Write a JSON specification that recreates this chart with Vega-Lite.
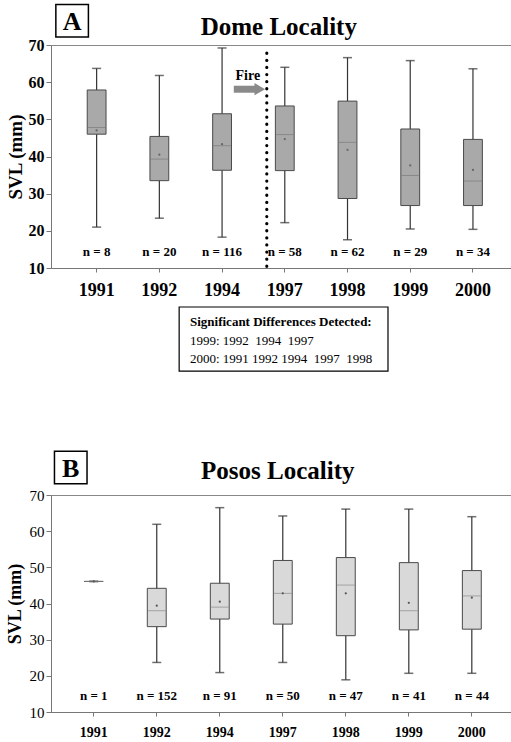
{
  "$schema": "https://vega.github.io/schema/vega-lite/v6.json",
  "background": "white",
  "padding": {"left": 5, "top": 1, "right": 0, "bottom": 0},
  "spacing": 6,
  "config": {
    "font": "Liberation Serif",
    "view": {"stroke": "#888"},
    "axis": {"grid": false, "domainColor": "#777", "tickColor": "#777", "labelColor": "black", "titleColor": "black", "labelFont": "Liberation Serif", "titleFont": "Liberation Serif", "labelOverlap": false}
  },
  "datasets": {
    "dome": [
      {"year": "1991", "min": 21.0, "q1": 46.0, "median": 47.8, "q3": 57.9, "max": 63.7, "mean": 47.0, "nlab": "n = 8"},
      {"year": "1992", "min": 23.4, "q1": 33.5, "median": 39.3, "q3": 45.4, "max": 61.8, "mean": 40.5, "nlab": "n = 20"},
      {"year": "1994", "min": 18.3, "q1": 36.3, "median": 42.9, "q3": 51.5, "max": 69.2, "mean": 43.3, "nlab": "n = 116"},
      {"year": "1997", "min": 22.2, "q1": 36.2, "median": 45.9, "q3": 53.6, "max": 64.0, "mean": 44.7, "nlab": "n = 58"},
      {"year": "1998", "min": 17.6, "q1": 28.7, "median": 43.8, "q3": 54.9, "max": 66.6, "mean": 41.8, "nlab": "n = 62"},
      {"year": "1999", "min": 20.5, "q1": 26.8, "median": 34.9, "q3": 47.4, "max": 65.8, "mean": 37.6, "nlab": "n = 29"},
      {"year": "2000", "min": 20.4, "q1": 26.8, "median": 33.4, "q3": 44.6, "max": 63.6, "mean": 36.4, "nlab": "n = 34"}
    ],
    "posos": [
      {"year": "1991", "min": 46.1, "q1": 46.1, "median": 46.1, "q3": 46.1, "max": 46.1, "mean": 46.1, "nlab": "n = 1"},
      {"year": "1992", "min": 23.7, "q1": 33.6, "median": 38.0, "q3": 44.2, "max": 61.9, "mean": 39.4, "nlab": "n = 152"},
      {"year": "1994", "min": 20.9, "q1": 35.7, "median": 39.0, "q3": 45.6, "max": 66.5, "mean": 40.5, "nlab": "n = 91"},
      {"year": "1997", "min": 23.7, "q1": 34.3, "median": 42.8, "q3": 51.9, "max": 64.2, "mean": 42.8, "nlab": "n = 50"},
      {"year": "1998", "min": 18.9, "q1": 31.1, "median": 45.1, "q3": 52.7, "max": 66.1, "mean": 42.8, "nlab": "n = 47"},
      {"year": "1999", "min": 20.7, "q1": 32.7, "median": 38.0, "q3": 51.3, "max": 66.1, "mean": 40.2, "nlab": "n = 41"},
      {"year": "2000", "min": 20.7, "q1": 32.9, "median": 42.1, "q3": 49.1, "max": 64.0, "mean": 41.6, "nlab": "n = 44"}
    ]
  },
  "vconcat": [
    {
      "width": 461,
      "height": 223,
      "encoding": {
        "x": {"field": "year", "type": "nominal", "title": null, "sort": null,
          "scale": {"type": "band", "paddingInner": 0.7, "paddingOuter": 0.525, "align": 0.55},
          "axis": {"labelAngle": 0, "labelFontWeight": "bold", "labelFontSize": 18, "tickSize": 4, "labelPadding": 9, "title": null}}
      },
      "layer": [
        {
          "data": {"name": "dome"},
          "mark": {"type": "rule", "color": "#333", "strokeWidth": 1.2},
          "encoding": {
            "y": {"field": "min", "type": "quantitative", "title": "SVL (mm)",
              "scale": {"domain": [10, 70], "nice": false, "zero": false},
              "axis": {"values": [10, 20, 30, 40, 50, 60, 70], "tickCount": 7, "labelOverlap": false, "labelFontWeight": "bold", "labelFontSize": 16, "tickSize": 5, "labelPadding": 2, "titleFontSize": 19, "titleFontWeight": "bold", "titlePadding": 3}},
            "y2": {"field": "max"}
          }
        },
        {
          "data": {"name": "dome"},
          "mark": {"type": "bar", "fill": "#a9a9a9", "stroke": "#4a4a4a", "strokeWidth": 1},
          "encoding": {"y": {"field": "q1", "type": "quantitative", "title": "SVL (mm)",
              "axis": {"values": [10, 20, 30, 40, 50, 60, 70], "tickCount": 7, "labelOverlap": false, "labelFontWeight": "bold", "labelFontSize": 16, "tickSize": 5, "labelPadding": 2, "titleFontSize": 19, "titleFontWeight": "bold", "titlePadding": 3}}, "y2": {"field": "q3"}}
        },
        {
          "data": {"name": "dome"},
          "mark": {"type": "tick", "color": "#333", "size": 9, "thickness": 1.5},
          "encoding": {"y": {"field": "min", "type": "quantitative", "title": "SVL (mm)",
              "axis": {"values": [10, 20, 30, 40, 50, 60, 70], "tickCount": 7, "labelOverlap": false, "labelFontWeight": "bold", "labelFontSize": 16, "tickSize": 5, "labelPadding": 2, "titleFontSize": 19, "titleFontWeight": "bold", "titlePadding": 3}}}
        },
        {
          "data": {"name": "dome"},
          "mark": {"type": "tick", "color": "#333", "size": 9, "thickness": 1.5},
          "encoding": {"y": {"field": "max", "type": "quantitative", "title": "SVL (mm)",
              "axis": {"values": [10, 20, 30, 40, 50, 60, 70], "tickCount": 7, "labelOverlap": false, "labelFontWeight": "bold", "labelFontSize": 16, "tickSize": 5, "labelPadding": 2, "titleFontSize": 19, "titleFontWeight": "bold", "titlePadding": 3}}}
        },
        {
          "data": {"name": "dome"},
          "mark": {"type": "tick", "color": "#7a7a7a", "size": 18, "thickness": 1, "strokeDash": [2, 2]},
          "encoding": {"y": {"field": "median", "type": "quantitative", "title": "SVL (mm)",
              "axis": {"values": [10, 20, 30, 40, 50, 60, 70], "tickCount": 7, "labelOverlap": false, "labelFontWeight": "bold", "labelFontSize": 16, "tickSize": 5, "labelPadding": 2, "titleFontSize": 19, "titleFontWeight": "bold", "titlePadding": 3}}}
        },
        {
          "data": {"name": "dome"},
          "mark": {"type": "point", "shape": "circle", "filled": true, "size": 5, "color": "#666", "opacity": 1},
          "encoding": {"y": {"field": "mean", "type": "quantitative", "title": "SVL (mm)",
              "axis": {"values": [10, 20, 30, 40, 50, 60, 70], "tickCount": 7, "labelOverlap": false, "labelFontWeight": "bold", "labelFontSize": 16, "tickSize": 5, "labelPadding": 2, "titleFontSize": 19, "titleFontWeight": "bold", "titlePadding": 3}}}
        },
        {
          "data": {"name": "dome"},
          "mark": {"type": "text", "fontSize": 13, "fontWeight": "bold", "baseline": "middle", "color": "black"},
          "encoding": {"y": {"datum": 14.2, "type": "quantitative", "title": "SVL (mm)"}, "text": {"field": "nlab"}}
        },
        {
          "data": {"values": [{"event": "fire"}]},
          "mark": {"type": "rule", "color": "black", "strokeWidth": 3.2, "strokeDash": [0.1, 7], "strokeCap": "round", "xOffset": -18},
          "encoding": {"x": {"datum": "1997"}, "y": {"datum": 67.8, "type": "quantitative", "title": "SVL (mm)"}, "y2": {"datum": 8.6}}
        },
        {
          "data": {"values": [{"label": "Fire"}]},
          "mark": {"type": "text", "fontSize": 14, "fontWeight": "bold", "baseline": "middle", "color": "black", "xOffset": -37},
          "encoding": {"x": {"datum": "1997"}, "y": {"datum": 61.7, "type": "quantitative", "title": "SVL (mm)"}, "text": {"field": "label"}}
        },
        {
          "data": {"values": [{"event": "fire"}]},
          "mark": {"type": "rule", "color": "#8a8a8a", "strokeWidth": 7, "xOffset": -51, "x2Offset": -28},
          "encoding": {"x": {"datum": "1997"}, "x2": {"datum": "1997"}, "y": {"datum": 58.1, "type": "quantitative", "title": "SVL (mm)"}}
        },
        {
          "data": {"values": [{"event": "fire"}]},
          "mark": {"type": "point", "shape": "triangle-right", "filled": true, "color": "#8a8a8a", "size": 150, "opacity": 1, "xOffset": -25},
          "encoding": {"x": {"datum": "1997"}, "y": {"datum": 58.1, "type": "quantitative", "title": "SVL (mm)"}}
        },
        {
          "data": {"values": [{"label": "A"}]},
          "mark": {"type": "point", "shape": "square", "filled": false, "stroke": "black", "strokeWidth": 1.5, "size": 1060, "opacity": 1, "xOffset": -24.5},
          "encoding": {"x": {"datum": "1991"}, "y": {"datum": 76.5, "type": "quantitative", "title": "SVL (mm)"}}
        },
        {
          "data": {"values": [{"label": "A"}]},
          "mark": {"type": "text", "fontSize": 26, "fontWeight": "bold", "baseline": "middle", "color": "black", "xOffset": -24.5, "dy": 1},
          "encoding": {"x": {"datum": "1991"}, "y": {"datum": 76.5, "type": "quantitative", "title": "SVL (mm)"}, "text": {"field": "label"}}
        },
        {
          "data": {"values": [{"label": "Dome Locality"}]},
          "mark": {"type": "text", "fontSize": 25, "fontWeight": "bold", "baseline": "alphabetic", "color": "black", "xOffset": -6},
          "encoding": {"x": {"datum": "1997"}, "y": {"datum": 72.6, "type": "quantitative", "title": "SVL (mm)"}, "text": {"field": "label"}}
        }
      ]
    },
    {
      "width": 461,
      "height": 134,
      "view": {"stroke": null},
      "layer": [
        {
          "data": {"values": [{"box": "significance"}]},
          "mark": {"type": "rect", "fill": "white", "stroke": "black", "strokeWidth": 1.2},
          "encoding": {
            "x": {"datum": 0.278, "type": "quantitative", "scale": {"domain": [0, 1]}, "axis": null},
            "x2": {"datum": 0.731},
            "y": {"datum": 0.522, "type": "quantitative", "scale": {"domain": [0, 1]}, "axis": null},
            "y2": {"datum": 1}
          }
        },
        {
          "data": {"values": [{"label": "Significant Differences Detected:"}]},
          "mark": {"type": "text", "fontSize": 13, "fontWeight": "bold", "align": "left", "baseline": "middle", "color": "black"},
          "encoding": {"x": {"datum": 0.3015, "type": "quantitative"}, "y": {"datum": 0.888, "type": "quantitative"}, "text": {"field": "label"}}
        },
        {
          "data": {"values": [{"label": "1999: 1992\u00a0 1994\u00a0 1997"}]},
          "mark": {"type": "text", "fontSize": 13, "align": "left", "baseline": "middle", "color": "black"},
          "encoding": {"x": {"datum": 0.3015, "type": "quantitative"}, "y": {"datum": 0.749, "type": "quantitative"}, "text": {"field": "label"}}
        },
        {
          "data": {"values": [{"label": "2000: 1991 1992 1994\u00a0 1997\u00a0 1998"}]},
          "mark": {"type": "text", "fontSize": 13, "align": "left", "baseline": "middle", "color": "black"},
          "encoding": {"x": {"datum": 0.3015, "type": "quantitative"}, "y": {"datum": 0.612, "type": "quantitative"}, "text": {"field": "label"}}
        }
      ]
    },
    {
      "width": 461,
      "height": 217,
      "encoding": {
        "x": {"field": "year", "type": "nominal", "title": null, "sort": null,
          "scale": {"type": "band", "paddingInner": 0.7, "paddingOuter": 0.508, "align": 0.52},
          "axis": {"labelAngle": 0, "labelFontWeight": "bold", "labelFontSize": 14, "tickSize": 4, "labelPadding": 9, "title": null}}
      },
      "layer": [
        {
          "data": {"name": "posos"},
          "mark": {"type": "rule", "color": "#333", "strokeWidth": 1.2},
          "encoding": {
            "y": {"field": "min", "type": "quantitative", "title": "SVL (mm)",
              "scale": {"domain": [10, 70], "nice": false, "zero": false},
              "axis": {"values": [10, 20, 30, 40, 50, 60, 70], "tickCount": 7, "labelOverlap": false, "labelFontWeight": "normal", "labelFontSize": 15, "tickSize": 5, "labelPadding": 2, "titleFontSize": 18, "titleFontWeight": "bold", "titlePadding": 5}},
            "y2": {"field": "max"}
          }
        },
        {
          "data": {"name": "posos"},
          "mark": {"type": "bar", "fill": "#d9d9d9", "stroke": "#4a4a4a", "strokeWidth": 1},
          "encoding": {"y": {"field": "q1", "type": "quantitative", "title": "SVL (mm)",
              "axis": {"values": [10, 20, 30, 40, 50, 60, 70], "tickCount": 7, "labelOverlap": false, "labelFontWeight": "normal", "labelFontSize": 15, "tickSize": 5, "labelPadding": 2, "titleFontSize": 18, "titleFontWeight": "bold", "titlePadding": 5}}, "y2": {"field": "q3"}}
        },
        {
          "data": {"name": "posos"},
          "mark": {"type": "tick", "color": "#333", "size": 9, "thickness": 1.5},
          "encoding": {"y": {"field": "min", "type": "quantitative", "title": "SVL (mm)",
              "axis": {"values": [10, 20, 30, 40, 50, 60, 70], "tickCount": 7, "labelOverlap": false, "labelFontWeight": "normal", "labelFontSize": 15, "tickSize": 5, "labelPadding": 2, "titleFontSize": 18, "titleFontWeight": "bold", "titlePadding": 5}}}
        },
        {
          "data": {"name": "posos"},
          "mark": {"type": "tick", "color": "#333", "size": 9, "thickness": 1.5},
          "encoding": {"y": {"field": "max", "type": "quantitative", "title": "SVL (mm)",
              "axis": {"values": [10, 20, 30, 40, 50, 60, 70], "tickCount": 7, "labelOverlap": false, "labelFontWeight": "normal", "labelFontSize": 15, "tickSize": 5, "labelPadding": 2, "titleFontSize": 18, "titleFontWeight": "bold", "titlePadding": 5}}}
        },
        {
          "data": {"name": "posos"},
          "mark": {"type": "tick", "color": "#8a8a8a", "size": 18, "thickness": 1, "strokeDash": [2, 2]},
          "encoding": {"y": {"field": "median", "type": "quantitative", "title": "SVL (mm)",
              "axis": {"values": [10, 20, 30, 40, 50, 60, 70], "tickCount": 7, "labelOverlap": false, "labelFontWeight": "normal", "labelFontSize": 15, "tickSize": 5, "labelPadding": 2, "titleFontSize": 18, "titleFontWeight": "bold", "titlePadding": 5}}}
        },
        {
          "data": {"name": "posos"},
          "mark": {"type": "point", "shape": "circle", "filled": true, "size": 5, "color": "#555", "opacity": 1},
          "encoding": {"y": {"field": "mean", "type": "quantitative", "title": "SVL (mm)",
              "axis": {"values": [10, 20, 30, 40, 50, 60, 70], "tickCount": 7, "labelOverlap": false, "labelFontWeight": "normal", "labelFontSize": 15, "tickSize": 5, "labelPadding": 2, "titleFontSize": 18, "titleFontWeight": "bold", "titlePadding": 5}}}
        },
        {
          "data": {"name": "posos"},
          "mark": {"type": "text", "fontSize": 13, "fontWeight": "bold", "baseline": "middle", "color": "black"},
          "encoding": {"y": {"datum": 14.3, "type": "quantitative", "title": "SVL (mm)"}, "text": {"field": "nlab"}}
        },
        {
          "data": {"values": [{"label": "B"}]},
          "mark": {"type": "point", "shape": "square", "filled": false, "stroke": "black", "strokeWidth": 1.5, "size": 1060, "opacity": 1, "xOffset": -23},
          "encoding": {"x": {"datum": "1991"}, "y": {"datum": 77.6, "type": "quantitative", "title": "SVL (mm)"}}
        },
        {
          "data": {"values": [{"label": "B"}]},
          "mark": {"type": "text", "fontSize": 26, "fontWeight": "bold", "baseline": "middle", "color": "black", "xOffset": -23, "dy": 1},
          "encoding": {"x": {"datum": "1991"}, "y": {"datum": 77.6, "type": "quantitative", "title": "SVL (mm)"}, "text": {"field": "label"}}
        },
        {
          "data": {"values": [{"label": "Posos Locality"}]},
          "mark": {"type": "text", "fontSize": 25, "fontWeight": "bold", "baseline": "alphabetic", "color": "black", "xOffset": -5},
          "encoding": {"x": {"datum": "1997"}, "y": {"datum": 74.4, "type": "quantitative", "title": "SVL (mm)"}, "text": {"field": "label"}}
        }
      ]
    }
  ]
}
